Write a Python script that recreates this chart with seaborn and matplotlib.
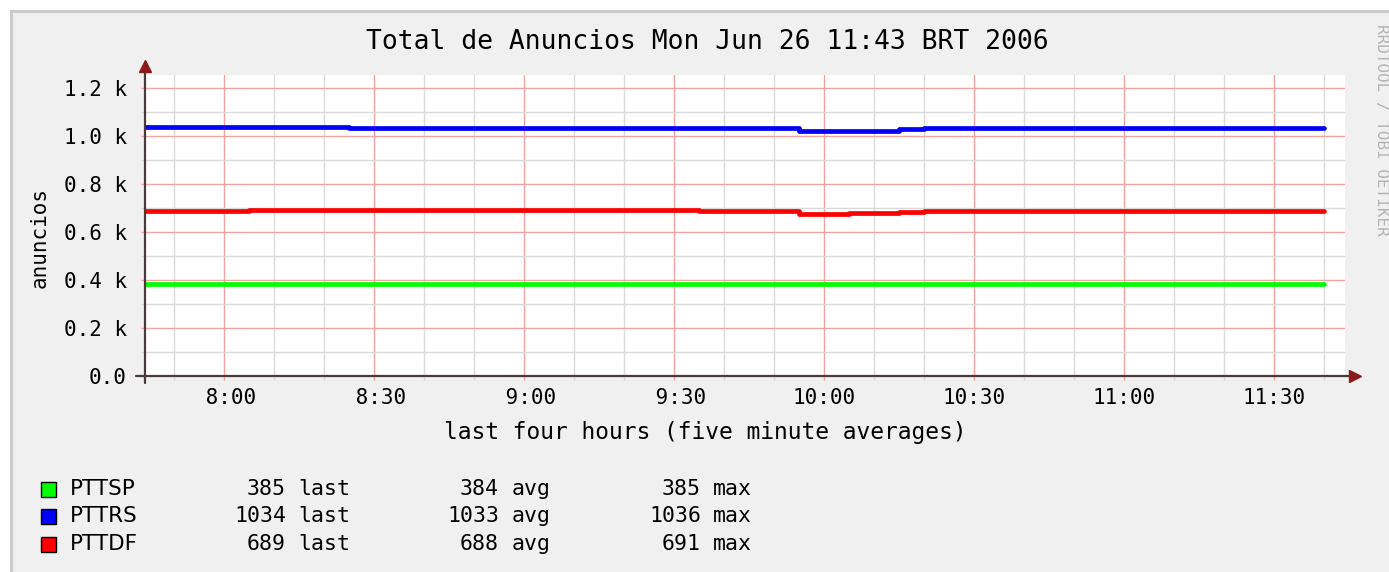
import matplotlib
matplotlib.use("Agg")
import matplotlib.pyplot as plt
import matplotlib.dates as mdates
import numpy as np
import pandas as pd
import seaborn as sns

from matplotlib.patches import Rectangle
from matplotlib.lines import Line2D
from matplotlib.ticker import FuncFormatter, MultipleLocator

# five minute averages, intervals starting 7:40 ... 11:35
series_names = ["PTTSP", "PTTRS", "PTTDF"]
series_colors = ["#00FF00", "#0000FF", "#FF0000"]

pttsp = [385, 385, 385, 385, 385, 385, 385, 385, 385,
         384, 384, 384,
         382, 382, 382, 382, 382, 382, 382,
         385, 385, 385, 385, 385, 385, 385, 385, 385, 385,
         385, 385, 385, 385, 385, 385, 385, 385, 385, 385,
         385, 385, 385, 385, 385, 385, 385, 385, 385]
pttrs = [1036, 1036, 1036, 1036, 1036, 1036, 1036, 1036, 1036,
         1035, 1035, 1035, 1035, 1035, 1035,
         1033, 1033, 1033, 1033,
         1034, 1034,
         1033, 1033,
         1032, 1032, 1032, 1032,
         1021, 1021,
         1022, 1022,
         1030,
         1034, 1034, 1034, 1034, 1034, 1034, 1034, 1034,
         1034, 1034, 1034, 1034, 1034, 1034, 1034, 1034]
pttdf = [689, 689, 689, 689, 689,
         690, 690, 690, 690,
         691,
         690, 690, 690, 690, 690, 690, 690, 690, 690,
         691, 691, 691, 691,
         688, 688, 688, 688,
         676, 676,
         677, 677,
         684,
         689, 689, 689, 689, 689, 689, 689, 689,
         689, 689, 689, 689, 689, 689, 689, 689]

last_vals = ["385", "1034", "689"]
avg_vals = ["384", "1033", "688"]
max_vals = ["385", "1036", "691"]

title = "Total de Anuncios Mon Jun 26 11:43 BRT 2006"
x_label = "last four hours (five minute averages)"
y_label = "anuncios"
watermark = "RRDTOOL / TOBI OETIKER"

W, H = 1389, 572


def fx(px):
    return px / W


def fy(py):
    return 1 - py / H


times = pd.date_range("2006-06-26 07:40", periods=len(pttsp), freq="5min")
frames = []
for name, vals in zip(series_names, [pttsp, pttrs, pttdf]):
    # repeat the last sample at the end so the final step gets drawn
    t = list(times) + [times[-1] + pd.Timedelta("5min")]
    v = list(vals) + [vals[-1]]
    frames.append(pd.DataFrame({"time": t, "value": v, "series": name}))
df = pd.concat(frames, ignore_index=True)

sns.set_theme(style="white")
plt.rcParams["font.family"] = ["DejaVu Sans Mono", "DejaVu Sans"]
plt.rcParams["text.color"] = "black"

fig = plt.figure(figsize=(W / 100, H / 100), dpi=100, facecolor="white")
fig.patches.append(Rectangle((fx(10), 0), 1, fy(10), transform=fig.transFigure,
                             facecolor="#F0F0F0", edgecolor="none", zorder=-10))
fig.add_artist(Line2D([fx(11), fx(11)], [0, fy(11)], color="#CBCBCB", lw=2.2))
fig.add_artist(Line2D([fx(11), 1], [fy(11), fy(11)], color="#CBCBCB", lw=2.2))

ax = fig.add_axes([fx(145), fy(376), 1200 / W, 301 / H])
ax.set_facecolor("white")

sns.lineplot(data=df, x="time", y="value", hue="series",
             palette=dict(zip(series_names, series_colors)),
             drawstyle="steps-post", linewidth=3.4, estimator=None,
             legend=False, ax=ax)

ax.set_xlim(pd.Timestamp("2006-06-26 07:44:08"), pd.Timestamp("2006-06-26 11:44:08"))
ax.set_ylim(0, 1254)
ax.set_xlabel("")
ax.set_ylabel("")

ax.xaxis.set_major_locator(mdates.MinuteLocator(byminute=[0, 30]))
ax.xaxis.set_minor_locator(mdates.MinuteLocator(byminute=[0, 10, 20, 30, 40, 50]))


def time_fmt(x, pos):
    d = mdates.num2date(x)
    return f"{d.hour:2d}:{d.minute:02d}"


def k_fmt(v, pos):
    if v == 0:
        return "0.0"
    return f"{v / 1000:.1f} k"


ax.xaxis.set_major_formatter(FuncFormatter(time_fmt))
ax.yaxis.set_major_locator(MultipleLocator(200))
ax.yaxis.set_minor_locator(MultipleLocator(100))
ax.yaxis.set_major_formatter(FuncFormatter(k_fmt))

ax.set_axisbelow(True)
ax.grid(True, which="major", color="#F4A3A3", linewidth=1.0)
ax.grid(True, which="minor", color="#DADADA", linewidth=1.0)
for s in ax.spines.values():
    s.set_visible(False)

ax.tick_params(which="major", length=3, width=1, color="#F4A3A3",
               labelsize=15, labelcolor="black", bottom=True, left=True)
ax.tick_params(which="minor", length=3, width=1, color="#DADADA", bottom=True, left=True)
ax.tick_params(axis="x", which="major", pad=6)
ax.tick_params(axis="y", which="major", pad=10)

# axes with arrows, rrdtool style
axis_col = "#4a3a3a"
ax.plot([-9 / 1200, 1208 / 1200], [0, 0], transform=ax.transAxes,
        color=axis_col, lw=1.6, clip_on=False, zorder=5)
ax.plot([0, 0], [-7 / 301, 1.0 + 6 / 301], transform=ax.transAxes,
        color=axis_col, lw=1.6, clip_on=False, zorder=5)
ax.plot([1210 / 1200], [0], marker=">", ms=8, color="#8B1A1A", mec="#8B1A1A",
        transform=ax.transAxes, clip_on=False, zorder=6)
ax.plot([0], [1.0 + 9 / 301], marker="^", ms=8, color="#8B1A1A", mec="#8B1A1A",
        transform=ax.transAxes, clip_on=False, zorder=6)

mono = "DejaVu Sans Mono"
fig.text(fx(707), fy(42), title, ha="center", va="center", fontsize=19, family=mono,
         color="black")
fig.text(fx(705), fy(433), x_label, ha="center", va="center", fontsize=16.5, family=mono,
         color="black")
fig.text(fx(40), fy(237), y_label, ha="center", va="center", rotation=90,
         fontsize=15, family=mono, color="black")
fig.text(fx(1382), fy(130), watermark, ha="center", va="center", rotation=270,
         fontsize=11.5, family=mono, color="#B4B4B4")

# legend block
row_y = [489, 516, 544]
for yy, name, col, l, a, m in zip(row_y, series_names, series_colors,
                                  last_vals, avg_vals, max_vals):
    fig.patches.append(Rectangle((fx(41), fy(yy + 7.5)), 15 / W, 15 / H,
                                 transform=fig.transFigure, facecolor=col,
                                 edgecolor="black", lw=1.0))
    fig.text(fx(70), fy(yy), name, ha="left", va="center", fontsize=15.5,
             family="DejaVu Sans", color="black")
    for txt, xp, ha in [(l, 286, "right"), ("last", 298, "left"),
                        (a, 499, "right"), ("avg", 512, "left"),
                        (m, 701, "right"), ("max", 713, "left")]:
        fig.text(fx(xp), fy(yy), txt, ha=ha, va="center", fontsize=15.5,
                 family=mono, color="black")

fig.savefig("out.png", dpi=100, facecolor=fig.get_facecolor())
